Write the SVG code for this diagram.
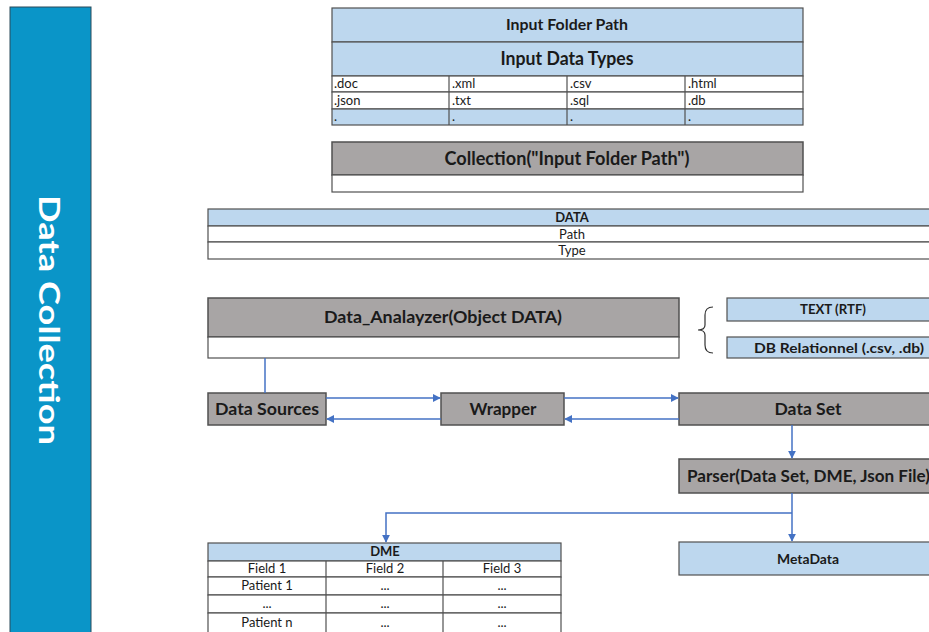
<svg xmlns="http://www.w3.org/2000/svg" width="929" height="632" viewBox="0 0 929 632">
<defs>
<style>
text{font-family:Lato,"Liberation Sans",sans-serif;fill:#1a1a1a}
.b{font-weight:bold}
.c{text-anchor:middle}
.blue{fill:#BDD7EE;stroke:#505050;stroke-width:1.2}
.white{fill:#ffffff;stroke:#505050;stroke-width:1.2}
.gray{fill:#A8A5A5;stroke:#505050;stroke-width:1.5}
.ln{stroke:#505050;stroke-width:1.2;fill:none}
.con{stroke:#4472C4;stroke-width:1.5;fill:none}
.cell{font-size:13px}
.sm{font-size:13px}
</style>
<marker id="ah" viewBox="0 0 10 10" refX="9" refY="5" markerWidth="8" markerHeight="8" markerUnits="userSpaceOnUse" orient="auto">
<path d="M0,0 L10,5 L0,10 z" fill="#4472C4"/>
</marker>
</defs>

<g id="sidebar">
<rect x="10" y="7" width="81" height="630" fill="#0A95C8" stroke="#2a4a5a" stroke-width="1"/>
<text class="b c" transform="translate(39,320) rotate(90)" font-size="29" style="fill:#ffffff" textLength="250" lengthAdjust="spacingAndGlyphs">Data Collection</text>
</g>

<g id="input-table">
<rect class="blue" x="332" y="8" width="471" height="34"/>
<text class="b c" x="567" y="30" font-size="15" textLength="122" lengthAdjust="spacingAndGlyphs">Input Folder Path</text>
<rect class="blue" x="332" y="42" width="471" height="34"/>
<text class="b c" x="567" y="65" font-size="18" textLength="133" lengthAdjust="spacingAndGlyphs">Input Data Types</text>
<rect class="white" x="332" y="76" width="471" height="16"/>
<rect class="white" x="332" y="92" width="471" height="17"/>
<rect class="blue" x="332" y="109" width="471" height="16"/>
<line class="ln" x1="449" y1="76" x2="449" y2="125"/>
<line class="ln" x1="567" y1="76" x2="567" y2="125"/>
<line class="ln" x1="685" y1="76" x2="685" y2="125"/>
<text class="cell" x="334" y="88">.doc</text>
<text class="cell" x="452" y="88">.xml</text>
<text class="cell" x="570" y="88">.csv</text>
<text class="cell" x="688" y="88">.html</text>
<text class="cell" x="334" y="105">.json</text>
<text class="cell" x="452" y="105">.txt</text>
<text class="cell" x="570" y="105">.sql</text>
<text class="cell" x="688" y="105">.db</text>
<text class="cell" x="334" y="121">.</text>
<text class="cell" x="452" y="121">.</text>
<text class="cell" x="570" y="121">.</text>
<text class="cell" x="688" y="121">.</text>
</g>

<g id="collection">
<rect class="gray" x="332" y="142" width="471" height="33"/>
<text class="b c" x="567" y="165" font-size="18" textLength="245" lengthAdjust="spacingAndGlyphs">Collection("Input Folder Path")</text>
<rect class="white" x="332" y="175" width="471" height="17"/>
</g>

<g id="data-table">
<rect class="blue" x="208" y="209" width="729" height="17"/>
<text class="b c sm" x="572" y="222">DATA</text>
<rect class="white" x="208" y="226" width="729" height="16"/>
<text class="c sm" x="572" y="239">Path</text>
<rect class="white" x="208" y="242" width="729" height="17"/>
<text class="c sm" x="572" y="255">Type</text>
</g>

<g id="data-analyzer">
<rect class="gray" x="208" y="298" width="471" height="39"/>
<text class="b c" x="443" y="323" font-size="17" textLength="238" lengthAdjust="spacingAndGlyphs">Data_Analayzer(Object DATA)</text>
<rect class="white" x="208" y="337" width="471" height="21"/>
</g>

<g id="brace">
<path d="M713,307 Q705,307 705,315 L705,325 Q705,330 698,330 Q705,330 705,335 L705,345 Q705,353 713,353" fill="none" stroke="#333" stroke-width="1.2"/>
</g>

<g id="text-rtf">
<rect class="blue" x="727" y="298" width="210" height="23"/>
<text class="b c" x="833" y="314" font-size="14" textLength="66" lengthAdjust="spacingAndGlyphs">TEXT (RTF)</text>
</g>

<g id="db-relationnel">
<rect class="blue" x="727" y="337" width="210" height="21"/>
<text class="b c" x="839" y="353" font-size="14" textLength="170" lengthAdjust="spacingAndGlyphs">DB Relationnel (.csv, .db)</text>
</g>

<g id="data-sources">
<rect class="gray" x="208" y="393" width="118" height="32"/>
<text class="b c" x="267" y="415" font-size="17" textLength="104" lengthAdjust="spacingAndGlyphs">Data Sources</text>
</g>

<g id="wrapper">
<rect class="gray" x="441" y="393" width="123" height="32"/>
<text class="b c" x="503" y="415" font-size="17" textLength="67" lengthAdjust="spacingAndGlyphs">Wrapper</text>
</g>

<g id="data-set">
<rect class="gray" x="679" y="393" width="258" height="32"/>
<text class="b c" x="808" y="415" font-size="17" textLength="67" lengthAdjust="spacingAndGlyphs">Data Set</text>
</g>

<g id="parser">
<rect class="gray" x="679" y="459" width="258" height="34"/>
<text class="b" x="687" y="482" font-size="17" textLength="243" lengthAdjust="spacingAndGlyphs">Parser(Data Set, DME, Json File)</text>
</g>

<g id="metadata">
<rect class="blue" x="679" y="542" width="258" height="33"/>
<text class="b c" x="808" y="564" font-size="14" textLength="62" lengthAdjust="spacingAndGlyphs">MetaData</text>
</g>

<g id="dme">
<rect class="blue" x="208" y="543" width="353" height="18"/>
<text class="b c sm" x="385" y="556">DME</text>
<rect class="white" x="208" y="561" width="353" height="16"/>
<rect class="white" x="208" y="577" width="353" height="18"/>
<rect class="white" x="208" y="595" width="353" height="18"/>
<rect class="white" x="208" y="613" width="353" height="24"/>
<line class="ln" x1="326" y1="561" x2="326" y2="637"/>
<line class="ln" x1="443" y1="561" x2="443" y2="637"/>
<text class="c cell" x="267" y="573">Field 1</text>
<text class="c cell" x="385" y="573">Field 2</text>
<text class="c cell" x="502" y="573">Field 3</text>
<text class="c cell" x="267" y="590">Patient 1</text>
<text class="c sm" x="385" y="590">...</text>
<text class="c sm" x="502" y="590">...</text>
<text class="c sm" x="267" y="608">...</text>
<text class="c sm" x="385" y="608">...</text>
<text class="c sm" x="502" y="608">...</text>
<text class="c cell" x="267" y="627">Patient n</text>
<text class="c sm" x="385" y="627">...</text>
<text class="c sm" x="502" y="627">...</text>
</g>

<g id="connectors">
<line class="con" x1="265" y1="358" x2="265" y2="393"/>
<line class="con" x1="326" y1="398" x2="440" y2="398" marker-end="url(#ah)"/>
<line class="con" x1="441" y1="419" x2="327" y2="419" marker-end="url(#ah)"/>
<line class="con" x1="564" y1="398" x2="678" y2="398" marker-end="url(#ah)"/>
<line class="con" x1="679" y1="419" x2="565" y2="419" marker-end="url(#ah)"/>
<line class="con" x1="792" y1="425" x2="792" y2="458" marker-end="url(#ah)"/>
<line class="con" x1="792" y1="493" x2="792" y2="541" marker-end="url(#ah)"/>
<polyline class="con" points="792,513 386,513 386,542" marker-end="url(#ah)"/>
</g>
</svg>
